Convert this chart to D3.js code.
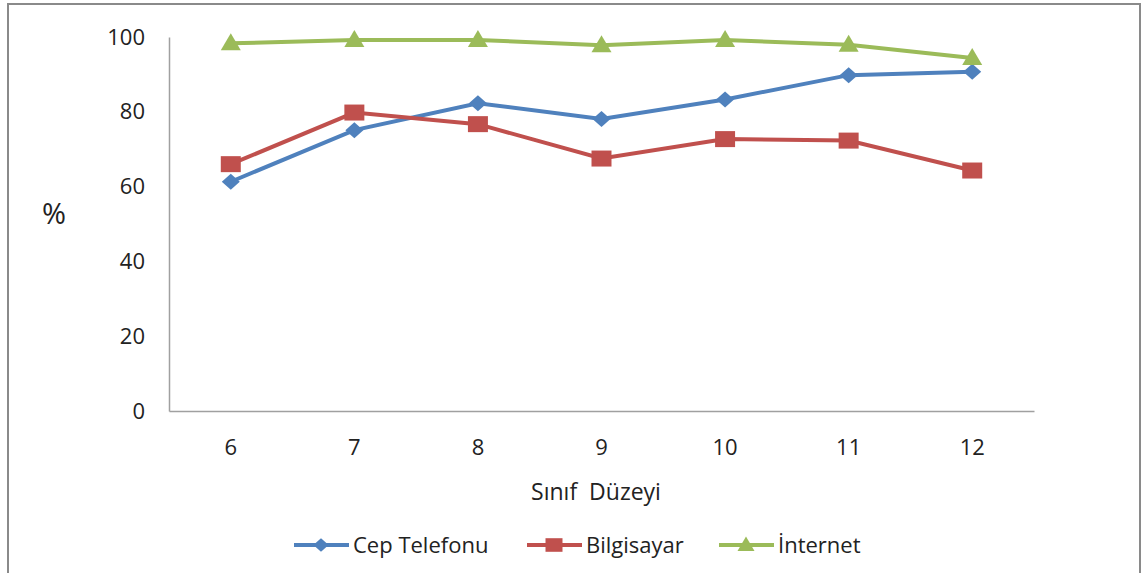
<!DOCTYPE html>
<html lang="tr">
<head>
  <meta charset="UTF-8">
  <script src="https://d3js.org/d3.v7.min.js"></script>
  <style>
    body { margin: 0; background: #fff; }
    text { font-family: "Open Sans", "DejaVu Sans", sans-serif; fill: #222; }
  </style>
</head>
<body>
  <svg id="chart" width="1142" height="573"></svg>
  <script>
    var grades = ['6', '7', '8', '9', '10', '11', '12'];
    var cepTelefonu = [61.3, 75.1, 82.3, 78.1, 83.3, 89.8, 90.7];
    var bilgisayar = [66.0, 79.8, 76.7, 67.5, 72.7, 72.3, 64.3];
    var internet = [98.3, 99.2, 99.2, 97.8, 99.2, 97.9, 94.4];
    var yTicks = [0, 20, 40, 60, 80, 100];

    var series = [
      { name: 'Cep Telefonu', values: cepTelefonu, color: '#4F81BD', shape: 'diamond' },
      { name: 'Bilgisayar', values: bilgisayar, color: '#C0504D', shape: 'square' },
      { name: 'İnternet', values: internet, color: '#9BBB59', shape: 'triangle' }
    ];

    // marker outlines, slightly wider than tall like the original
    function marker(shape, k) {
      var p = d3.path();
      if (shape === 'square') {
        p.rect(-10 * k, -8 * k, 20 * k, 16 * k);
      } else if (shape === 'diamond') {
        p.moveTo(0, -8 * k); p.lineTo(9 * k, 0); p.lineTo(0, 8 * k); p.lineTo(-9 * k, 0); p.closePath();
      } else {
        p.moveTo(0, -10 * k); p.lineTo(10 * k, 7 * k); p.lineTo(-10 * k, 7 * k); p.closePath();
      }
      return p.toString();
    }

    var svg = d3.select('#chart');

    // outer frame
    svg.append('rect').attr('x', 8).attr('y', 4).attr('width', 1132).attr('height', 580)
      .attr('fill', 'none').attr('stroke', '#8a8a8a').attr('stroke-width', 2);

    var scX = d3.scaleBand().domain(grades).range([169, 1034]);
    var scY = d3.scaleLinear().domain([0, 100]).range([411, 37]);

    var yAxis = svg.append('g').attr('transform', 'translate(169,0)')
      .call(d3.axisLeft(scY).tickValues(yTicks).tickSize(0).tickPadding(24));
    var xAxis = svg.append('g').attr('transform', 'translate(0,411)')
      .call(d3.axisBottom(scX).tickSize(0).tickPadding(28));
    [xAxis, yAxis].forEach(function (g) {
      g.select('.domain').attr('stroke', '#a0a0a0').attr('stroke-width', 1.5);
      g.selectAll('text').style('font-size', '22px').attr('fill', '#222');
    });

    svg.append('text').attr('x', 596).attr('y', 500).attr('text-anchor', 'middle')
      .style('font-size', '23px').style('white-space', 'pre').text('Sınıf  Düzeyi');
    svg.append('text').attr('x', 54).attr('y', 224).attr('text-anchor', 'middle')
      .style('font-size', '29px').text('%');

    var line = d3.line()
      .x(function (d, i) { return scX(grades[i]) + scX.bandwidth() / 2; })
      .y(function (d) { return scY(d); });

    series.forEach(function (s) {
      svg.append('path').datum(s.values).attr('d', line)
        .attr('fill', 'none').attr('stroke', s.color).attr('stroke-width', 4);
      svg.selectAll(null).data(s.values).enter().append('path')
        .attr('d', marker(s.shape, 1))
        .attr('transform', function (d, i) {
          return 'translate(' + (scX(grades[i]) + scX.bandwidth() / 2) + ',' + scY(d) + ')';
        })
        .attr('fill', s.color);
    });

    // legend
    var legX = [294, 527, 719];
    var leg = svg.selectAll('.leg').data(series).enter().append('g')
      .attr('class', 'leg')
      .attr('transform', function (d, i) { return 'translate(' + legX[i] + ',545)'; });
    leg.append('line').attr('x1', 0).attr('x2', 55).attr('y1', 0).attr('y2', 0)
      .attr('stroke', function (d) { return d.color; }).attr('stroke-width', 4);
    leg.append('path').attr('transform', 'translate(27,0)')
      .attr('d', function (d) { return marker(d.shape, 0.85); })
      .attr('fill', function (d) { return d.color; });
    leg.append('text').attr('x', 59).attr('y', 8).style('font-size', '22px')
      .text(function (d) { return d.name; });
  </script>
</body>
</html>
